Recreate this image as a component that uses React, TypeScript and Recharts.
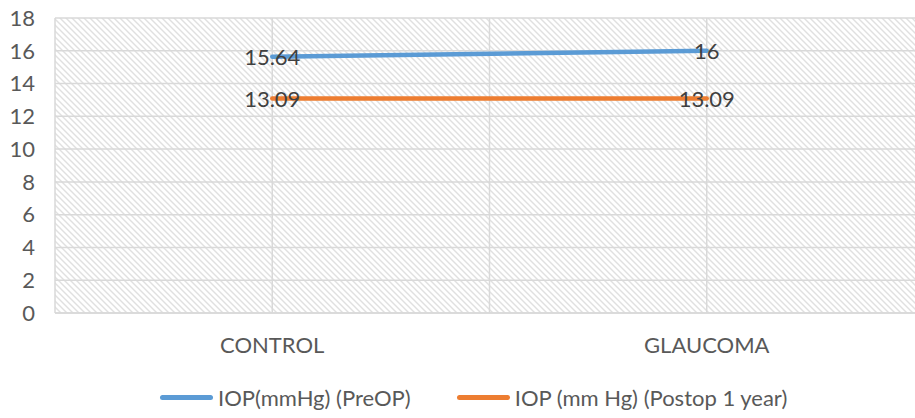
import React from 'react'
import {
  LineChart,
  Line,
  XAxis,
  YAxis,
  CartesianGrid,
  LabelList,
} from 'recharts'

const categories = ['CONTROL', 'GLAUCOMA']
const preOp = [15.64, 16]
const postOp = [13.09, 13.09]
const yTicks = [0, 2, 4, 6, 8, 10, 12, 14, 16, 18]

const seriesNames = ['IOP(mmHg) (PreOP)', 'IOP (mm Hg) (Postop 1 year)']
const seriesColors = ['#5B9BD5', '#ED7D31']

// categories sit in the middle of each band, grid lines on bands and centres
const xTicks = [0, 0.5, 1, 1.5, 2]
const data = categories.map((name, i) => ({
  x: i + 0.5,
  name,
  preOp: preOp[i],
  postOp: postOp[i],
}))

const FONT = 'Lato, "Open Sans", sans-serif'

const renderValue = (props: any) => {
  const { x, y, value } = props
  return (
    <text
      x={x}
      y={y}
      textAnchor="middle"
      dominantBaseline="central"
      fontSize={22}
      fontFamily={FONT}
      fill="#404040"
    >
      {value}
    </text>
  )
}

function ChartLegend() {
  return (
    <div
      style={{
        position: 'absolute',
        left: 0,
        top: 384,
        display: 'flex',
        alignItems: 'center',
        paddingLeft: 160,
        fontFamily: FONT,
        fontSize: 22,
        color: '#595959',
        whiteSpace: 'nowrap',
      }}
    >
      {seriesNames.map((n, i) => (
        <div key={n} style={{ display: 'flex', alignItems: 'center', marginRight: 46 }}>
          <span
            style={{
              display: 'inline-block',
              width: 53,
              height: 5,
              borderRadius: 3,
              background: seriesColors[i],
              marginRight: 5,
            }}
          />
          <span>{n}</span>
        </div>
      ))}
    </div>
  )
}

export default function App() {
  return (
    <div
      style={{
        position: 'absolute',
        left: 0,
        top: 0,
        width: 915,
        height: 418,
        overflow: 'hidden',
        background: '#fff',
      }}
    >
      <svg width={0} height={0} style={{ position: 'absolute' }}>
        <defs>
          <pattern id="hatch" width={6} height={6} patternUnits="userSpaceOnUse">
            <rect width={6} height={6} fill="#ffffff" />
            <path d="M-1,-1 L7,7 M-1,5 L1,7 M5,-1 L7,1" stroke="#e0e0e0" strokeWidth={1.4} />
          </pattern>
        </defs>
      </svg>
      <LineChart
        width={930}
        height={418}
        data={data}
        margin={{ top: 18, right: 6, bottom: 75, left: 0 }}
      >
        <CartesianGrid stroke="#d9d9d9" strokeWidth={1.5} fill="url(#hatch)" />
        <XAxis
          type="number"
          dataKey="x"
          domain={[0, 2]}
          ticks={xTicks}
          height={30}
          tickFormatter={(v: number) => (Number.isInteger(v) ? '' : categories[Math.floor(v)])}
          tick={{ fontSize: 22, fontFamily: FONT, fill: '#595959' }}
          axisLine={{ stroke: '#d9d9d9', strokeWidth: 1.5 }}
          tickLine={false}
          tickSize={0}
          tickMargin={24}
          interval={0}
        />
        <YAxis
          domain={[0, 18]}
          ticks={yTicks}
          width={55}
          tick={{ fontSize: 22, fontFamily: FONT, fill: '#595959' }}
          axisLine={false}
          tickLine={false}
          tickSize={0}
          tickMargin={20}
          interval={0}
        />
        <Line
          dataKey="preOp"
          name={seriesNames[0]}
          stroke={seriesColors[0]}
          strokeWidth={4.5}
          strokeLinecap="round"
          dot={false}
          activeDot={false}
          isAnimationActive={false}
        >
          <LabelList dataKey="preOp" content={renderValue} />
        </Line>
        <Line
          dataKey="postOp"
          name={seriesNames[1]}
          stroke={seriesColors[1]}
          strokeWidth={4.5}
          strokeLinecap="round"
          dot={false}
          activeDot={false}
          isAnimationActive={false}
        >
          <LabelList dataKey="postOp" content={renderValue} />
        </Line>
      </LineChart>
      <ChartLegend />
    </div>
  )
}
